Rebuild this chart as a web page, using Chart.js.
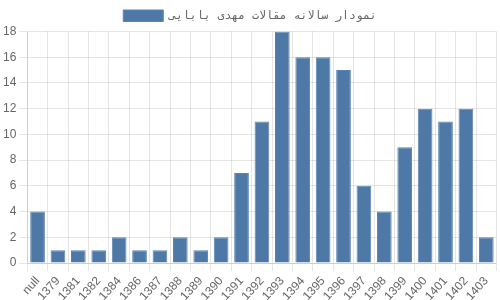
<!DOCTYPE html>
<html><head><meta charset="utf-8">
<script src="https://cdn.jsdelivr.net/npm/chart.js@4/dist/chart.umd.min.js"></script>
<style>html,body{margin:0;padding:0;background:#fff}#w{width:500px;height:300px}</style>
</head><body><div id="w"><canvas id="c"></canvas></div>
<script>
const categories = ["null","1379","1381","1382","1384","1386","1387","1388","1389","1390","1391","1392","1393","1394","1395","1396","1397","1398","1399","1400","1401","1402","1403"];
const counts = [4,1,1,1,2,1,1,2,1,2,7,11,18,16,16,15,6,4,9,12,11,12,2];
const seriesLabel = "نمودار سالانه مقالات مهدی بابایی";
new Chart(document.getElementById('c'), {
  type: 'bar',
  data: { labels: categories, datasets: [{ label: seriesLabel, data: counts, backgroundColor: '#4e79a7', borderColor: '#5a84b0', borderWidth: 1 }] },
  options: {
    responsive: true, maintainAspectRatio: false, animation: false,
    plugins: { legend: { display: true, labels: { font: { family: "'DejaVu Sans Mono', monospace", size: 11.5 } } } },
    scales: {
      x: { ticks: { maxRotation: 48, minRotation: 48, autoSkip: false }, afterFit: (s) => { s.height = 37; } },
      y: { beginAtZero: true, max: 18, ticks: { stepSize: 2 } }
    }
  }
});
</script></body></html>
